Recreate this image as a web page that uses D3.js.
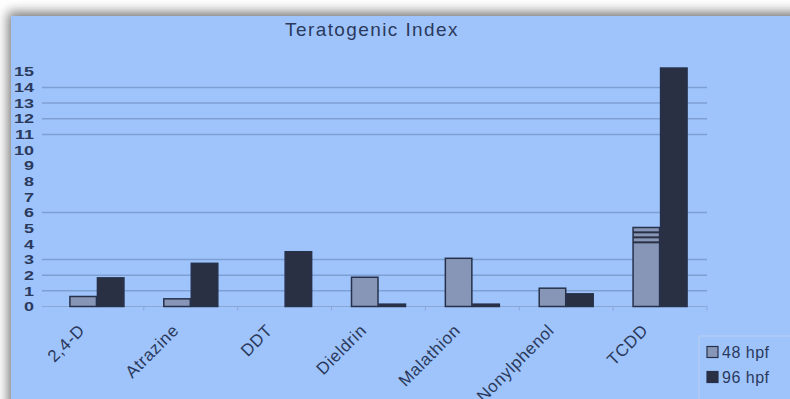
<!DOCTYPE html>
<html>
<head>
<meta charset="utf-8">
<script src="https://cdn.jsdelivr.net/npm/d3@7/dist/d3.min.js"></script>
<style>
  html, body { margin: 0; padding: 0; background: #ffffff; }
  svg { display: block; }
  text { font-family: "Liberation Sans", Arial, sans-serif; }
</style>
</head>
<body>
<svg id="chart" width="790" height="399"></svg>
<script>
// Teratogenic index per compound at two developmental stages
const compounds = ["2,4-D", "Atrazine", "DDT", "Dieldrin", "Malathion", "Nonylphenol", "TCDD"];
const hpf48 = [0.64, 0.49, 0, 1.87, 3.08, 1.17, 5.05];
const hpf96 = [1.83, 2.76, 3.5, 0.15, 0.15, 0.81, 15.24];
const seriesNames = ["48 hpf", "96 hpf"];
const yTicks = [0, 1, 2, 3, 4, 5, 6, 7, 8, 9, 10, 11, 12, 13, 14, 15];
const gridValues = [1, 2, 3, 6, 11, 12, 13, 14];
// extra bands drawn across the top of the TCDD 48 hpf bar
const tcddBands = [4.74, 4.42, 4.1];

const W = 790, H = 399;
const svg = d3.select("#chart");

const colors = { bg: "#9fc4fc", ink: "#2b3a5c", c48: "#8796b6", c96: "#2a3043", stroke: "#27314a", grid: "#7e9fd2" };

// drop shadow behind the panel
const defs = svg.append("defs");
const f = defs.append("filter").attr("id", "shadow").attr("x", "-10%").attr("y", "-10%").attr("width", "120%").attr("height", "120%");
f.append("feGaussianBlur").attr("stdDeviation", 6);

svg.append("rect").attr("x", 8).attr("y", 12).attr("width", W + 20).attr("height", H + 20)
  .attr("fill", "#777").attr("filter", "url(#shadow)");
svg.append("rect").attr("x", 11).attr("y", 16).attr("width", W).attr("height", H)
  .attr("fill", colors.bg);

const x0 = d3.scaleBand().domain(compounds).range([50, 707]).paddingInner(0).paddingOuter(0);
const x1 = d3.scaleBand().domain(seriesNames).range([0, 55]);
const y = d3.scaleLinear().domain([0, 15]).range([306.5, 71.8]);

// title
svg.append("text").attr("x", 372).attr("y", 36).attr("text-anchor", "middle")
  .attr("font-size", 19).attr("letter-spacing", 1.4).attr("fill", colors.ink).text("Teratogenic Index");

// gridlines
svg.append("g").selectAll("line").data(gridValues).join("line")
  .attr("x1", 42).attr("x2", 707)
  .attr("y1", d => y(d)).attr("y2", d => y(d))
  .attr("stroke", colors.grid).attr("stroke-width", 1.5);

// y-axis labels (compressed vertically so they stack tightly)
const yAxis = d3.axisLeft(y).tickValues(yTicks).tickSize(0).tickPadding(0).tickFormat(d3.format("d"));
const gy = svg.append("g").attr("transform", "translate(34,0)").call(yAxis);
gy.select(".domain").remove();
gy.selectAll(".tick").attr("transform", d => `translate(0,${y(d)}) scale(1,0.72)`);
gy.selectAll("text").attr("font-size", 18).attr("fill", colors.ink)
  .attr("font-family", "'Liberation Sans', Arial, sans-serif").attr("font-weight", "bold")
  .attr("x", 0).attr("dy", "0.36em");

// baseline and category separators
svg.append("line").attr("x1", 42).attr("x2", 707).attr("y1", y(0)).attr("y2", y(0))
  .attr("stroke", "#8aa6d4").attr("stroke-width", 1);
svg.append("g").selectAll("line").data(compounds).join("line")
  .attr("x1", d => x0(d) + x0.bandwidth()).attr("x2", d => x0(d) + x0.bandwidth())
  .attr("y1", y(0)).attr("y2", y(0) + 4)
  .attr("stroke", "#8aa6d4").attr("stroke-width", 1);

// bars
const rows = compounds.map((c, i) => ({ c, vals: [hpf48[i], hpf96[i]] }));
const groups = svg.append("g").selectAll("g").data(rows).join("g")
  .attr("transform", d => `translate(${x0(d.c) + (x0.bandwidth() - 55) / 2},0)`);
groups.selectAll("rect").data(d => d.vals.map((v, k) => ({ k, v }))).join("rect")
  .filter(d => d.v > 0)
  .attr("x", d => x1(seriesNames[d.k]) + 0.5)
  .attr("width", x1.bandwidth() - 1)
  .attr("y", d => y(d.v))
  .attr("height", d => y(0) - y(d.v))
  .attr("fill", d => d.k === 0 ? colors.c48 : colors.c96)
  .attr("stroke", colors.stroke).attr("stroke-width", 1.5);

// bands on TCDD 48 hpf
const tcddX = x0("TCDD") + (x0.bandwidth() - 55) / 2 + x1("48 hpf");
svg.append("g").selectAll("line").data(tcddBands).join("line")
  .attr("x1", tcddX + 0.5).attr("x2", tcddX + x1.bandwidth())
  .attr("y1", d => y(d)).attr("y2", d => y(d))
  .attr("stroke", colors.c96).attr("stroke-width", 2);

// category labels
svg.append("g").selectAll("text").data(compounds).join("text")
  .attr("transform", d => `translate(${x0(d) + x0.bandwidth() / 2 - 11},${y(0) + 25}) rotate(-45)`)
  .attr("text-anchor", "end").attr("font-size", 17).attr("letter-spacing", 0.6).attr("fill", colors.ink)
  .text(d => d);

// legend
const lg = svg.append("g").attr("transform", "translate(699,336)");
lg.append("rect").attr("width", 100).attr("height", 70).attr("fill", "none")
  .attr("stroke", "#b9cdee").attr("stroke-width", 1);
const li = lg.selectAll("g").data(seriesNames).join("g")
  .attr("transform", (d, i) => `translate(8,${16 + i * 25})`);
li.append("rect").attr("x", 0).attr("y", -5.5).attr("width", 11).attr("height", 11)
  .attr("fill", (d, i) => i === 0 ? colors.c48 : colors.c96)
  .attr("stroke", colors.stroke).attr("stroke-width", 1.2);
li.append("text").attr("x", 15).attr("y", 0).attr("dy", "0.36em")
  .attr("font-size", 16).attr("letter-spacing", 0.5).attr("fill", colors.ink).text(d => d);
</script>
</body>
</html>
